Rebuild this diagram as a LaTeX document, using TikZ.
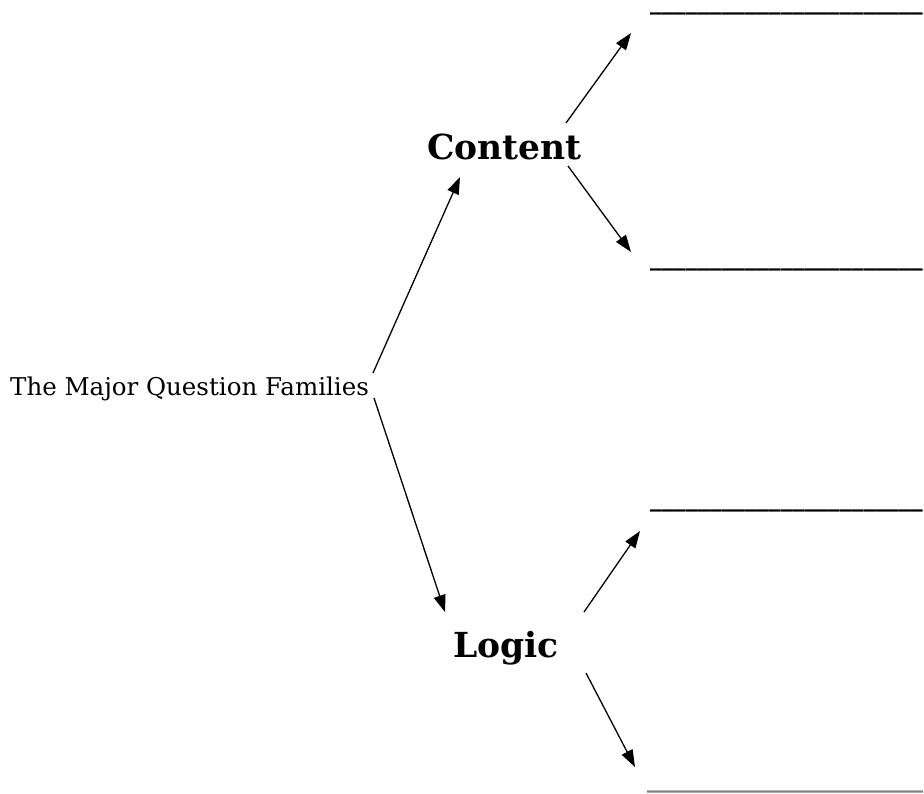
\documentclass[tikz,border=0pt]{standalone}
\usepackage{fontspec}
\setmainfont{DejaVu Serif}
\usetikzlibrary{arrows.meta}
\begin{document}
\begin{tikzpicture}[x=1pt,y=-1pt,
  lbl/.style={inner sep=0pt,anchor=base west},
  blank/.style={inner sep=0pt,anchor=base west,font=\fontsize{23.7}{26}\selectfont\bfseries},
  conn/.style={line width=1.3pt,-{Triangle[length=17pt,width=12pt]}}]
\useasboundingbox (0,0) rectangle (924,793);
\node[lbl,font=\fontsize{24.5}{30}\selectfont] (fam) at (10,395) {The Major Question Families};
\node[lbl,font=\fontsize{34.5}{42}\selectfont\bfseries] (content) at (427,159) {Content};
\node[lbl,font=\fontsize{34.5}{42}\selectfont\bfseries] (logic) at (453,657) {Logic};
\node[blank] (b1) at (650,9) {\_\_\_\_\_\_\_\_\_\_\_\_\_\_\_\_\_\_\_\_\_\_\_};
\node[blank] (b2) at (650,265) {\_\_\_\_\_\_\_\_\_\_\_\_\_\_\_\_\_\_\_\_\_\_\_};
\node[blank] (b3) at (650,506) {\_\_\_\_\_\_\_\_\_\_\_\_\_\_\_\_\_\_\_\_\_\_\_};
\node[blank,text=gray,font=\fontsize{24}{26}\selectfont\bfseries] (b4) at (647,787) {\_\_\_\_\_\_\_\_\_\_\_\_\_\_\_\_\_\_\_\_\_\_\_};
\coordinate (famU) at (373,373);
\coordinate (famD) at (374,398);
\coordinate (conIn) at (460,177);
\coordinate (logIn) at (445,612);
\coordinate (conU) at (566,123);
\coordinate (conD) at (568,166);
\coordinate (logU) at (584,612);
\coordinate (logD) at (586,673);
\coordinate (t1) at (631,33);
\coordinate (t2) at (631,252);
\coordinate (t3) at (640,531);
\coordinate (t4) at (635,767);
\draw[conn] (famU) -- (conIn);
\draw[conn] (famD) -- (logIn);
\draw[conn] (conU) -- (t1);
\draw[conn] (conD) -- (t2);
\draw[conn] (logU) -- (t3);
\draw[conn] (logD) -- (t4);
\end{tikzpicture}
\end{document}
